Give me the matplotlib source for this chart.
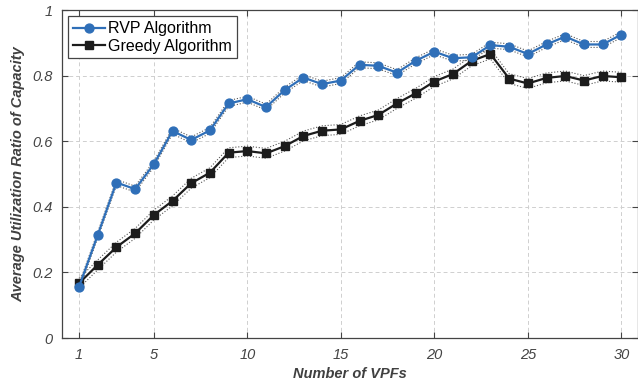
import numpy as np
import matplotlib.pyplot as plt

vpfs = np.arange(1, 31)
rvp = [0.156, 0.314, 0.474, 0.454, 0.530, 0.631, 0.604, 0.633, 0.715, 0.728,
       0.704, 0.756, 0.794, 0.774, 0.785, 0.833, 0.830, 0.809, 0.845, 0.873,
       0.853, 0.856, 0.893, 0.888, 0.866, 0.895, 0.919, 0.895, 0.895, 0.925]
greedy = [0.167, 0.223, 0.277, 0.319, 0.375, 0.418, 0.472, 0.504, 0.565, 0.570,
          0.563, 0.585, 0.616, 0.632, 0.636, 0.662, 0.680, 0.715, 0.746, 0.782,
          0.805, 0.845, 0.866, 0.791, 0.776, 0.793, 0.799, 0.785, 0.799, 0.795]
# spread of the runs around each mean curve
rvp_spread = 0.009
greedy_spread = 0.015

plt.rcParams['font.family'] = ['Liberation Sans', 'DejaVu Sans']

fig = plt.figure(figsize=(6.38, 3.87), dpi=100)
ax = fig.add_axes([0.0972, 0.1266, 0.903, 0.8475])

blue = '#2f6fb8'
dark = '#1c1c1c'

for vals, spread in ((rvp, rvp_spread), (greedy, greedy_spread)):
    v = np.array(vals)
    ax.plot(vpfs, v + spread, ':', color='#555555', lw=0.8, zorder=2)
    ax.plot(vpfs, v - spread, ':', color='#555555', lw=0.8, zorder=2)

ax.plot(vpfs, rvp, '-o', color=blue, lw=1.6, ms=6.4, mfc=blue, mec=blue,
        label='RVP Algorithm', zorder=4)
ax.plot(vpfs, greedy, '-s', color=dark, lw=1.6, ms=5.6, mfc=dark, mec=dark,
        label='Greedy Algorithm', zorder=3)

ax.set_xlim(0.09, 30.9)
ax.set_ylim(0, 1)
ax.set_xticks([1, 5, 10, 15, 20, 25, 30])
ax.set_yticks([0, 0.2, 0.4, 0.6, 0.8, 1])
ax.set_yticklabels(['0', '0.2', '0.4', '0.6', '0.8', '1'])

ax.grid(True, linestyle=(0, (4, 3)), color='#cfcfcf', lw=0.7)
ax.set_axisbelow(True)
ax.tick_params(direction='in', length=4, color='#444444', labelcolor='#444444',
               labelsize=10.5, top=True, right=True, pad=7)
for lbl in ax.get_xticklabels() + ax.get_yticklabels():
    lbl.set_fontstyle('italic')
for sp in ax.spines.values():
    sp.set_color('#444444')
    sp.set_linewidth(0.9)

ax.set_xlabel('Number of VPFs', fontsize=10.5, fontweight='bold',
              fontstyle='italic', color='#404040', labelpad=4)
ax.set_ylabel('Average Utilization Ratio of Capacity', fontsize=10.5,
              fontweight='bold', fontstyle='italic', color='#404040', labelpad=5)

leg = ax.legend(loc='upper left', fontsize=11.5, fancybox=False, framealpha=1,
                edgecolor='#444444', borderpad=0.3, labelspacing=0.15,
                handlelength=2.0, handletextpad=0.2, borderaxespad=0.4)
leg.get_frame().set_linewidth(0.9)

fig.savefig('out.png', dpi=100)
